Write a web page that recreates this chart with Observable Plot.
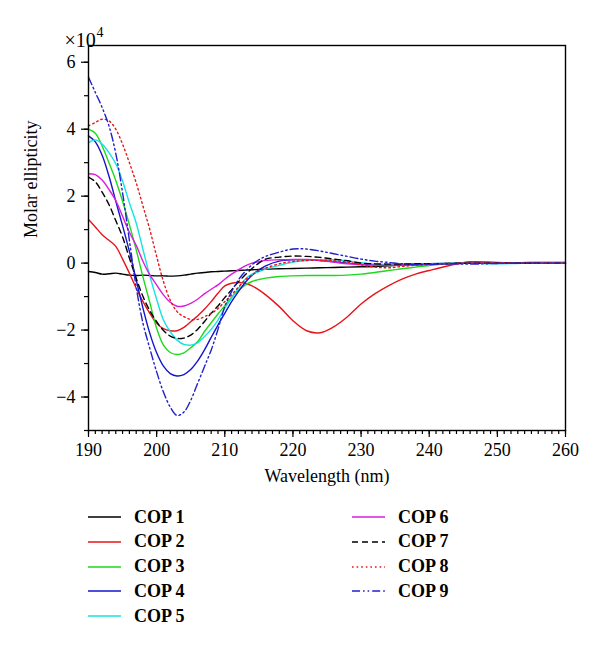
<!DOCTYPE html>
<html><head><meta charset="utf-8">
<script src="https://cdn.jsdelivr.net/npm/d3@7"></script>
<script src="https://cdn.jsdelivr.net/npm/@observablehq/plot@0.6"></script>
<style>
body{margin:0;background:#fff;font-family:"Liberation Serif",serif;}
#legend{position:relative;width:600px;height:147px;}
.item{position:absolute;display:flex;align-items:center;height:22px;font-weight:bold;font-size:18px;color:#000;}
.item svg{margin-right:13px;}
</style></head><body>
<div id="chart"></div><div id="legend"></div>
<script>
// Wavelength grid (nm)
const wavelengths = [190,191,192,193,194,195,196,197,198,199,200,201,202,203,204,205,206,207,208,209,210,211,212,213,214,215,216,218,220,222,224,226,228,230,232,234,236,238,240,243,246,250,255,260];
// Molar ellipticity (x10^4)
const cop1 = [-0.25,-0.28,-0.33,-0.32,-0.3,-0.33,-0.36,-0.37,-0.36,-0.37,-0.38,-0.38,-0.39,-0.38,-0.36,-0.33,-0.3,-0.28,-0.26,-0.25,-0.24,-0.23,-0.22,-0.21,-0.2,-0.19,-0.18,-0.17,-0.16,-0.15,-0.14,-0.13,-0.12,-0.11,-0.1,-0.08,-0.06,-0.05,-0.04,-0.02,0,0,0.02,0.02];
const cop2 = [1.3,1.08,0.85,0.68,0.5,0.12,-0.3,-0.75,-1.15,-1.5,-1.8,-1.96,-2.02,-2.02,-1.92,-1.75,-1.58,-1.38,-1.15,-0.9,-0.68,-0.6,-0.58,-0.6,-0.68,-0.8,-0.95,-1.3,-1.72,-2.02,-2.08,-1.9,-1.6,-1.22,-0.92,-0.68,-0.48,-0.33,-0.22,-0.07,0.04,0.02,0,0];
const cop3 = [4.0,3.88,3.5,3.0,2.47,1.85,1.15,0.4,-0.42,-1.18,-1.95,-2.45,-2.67,-2.73,-2.68,-2.53,-2.35,-2.05,-1.78,-1.52,-1.27,-1.02,-0.82,-0.66,-0.55,-0.49,-0.45,-0.4,-0.38,-0.37,-0.37,-0.37,-0.36,-0.33,-0.28,-0.22,-0.17,-0.12,-0.07,-0.01,0,0,0,0];
const cop4 = [3.8,3.62,3.22,2.6,1.85,1.12,0.35,-0.5,-1.35,-2.1,-2.68,-3.08,-3.3,-3.37,-3.33,-3.18,-2.93,-2.6,-2.22,-1.85,-1.5,-1.15,-0.85,-0.58,-0.36,-0.2,-0.08,0.06,0.1,0.1,0.08,0.04,0,-0.03,-0.05,-0.05,-0.04,-0.03,-0.02,-0.01,0,0,0,0];
const cop5 = [3.6,3.68,3.56,3.3,2.97,2.45,1.8,1.2,0.4,-0.38,-1.08,-1.7,-2.05,-2.3,-2.43,-2.45,-2.38,-2.2,-1.98,-1.7,-1.35,-1.05,-0.75,-0.48,-0.33,-0.25,-0.18,-0.07,0.03,0.08,0.1,0.1,0.07,0.01,-0.03,-0.04,-0.04,-0.03,-0.02,-0.01,0,-0.02,0,0];
const cop6 = [2.67,2.64,2.48,2.2,1.87,1.4,0.92,0.53,0.05,-0.35,-0.65,-0.95,-1.17,-1.29,-1.28,-1.2,-1.08,-0.92,-0.78,-0.65,-0.48,-0.33,-0.2,-0.08,0,0.04,0.08,0.1,0.11,0.11,0.08,0.03,-0.02,-0.05,-0.06,-0.06,-0.05,-0.04,-0.03,-0.02,0,0,0,0];
const cop7 = [2.57,2.43,2.12,1.75,1.27,0.78,0.15,-0.45,-1.0,-1.42,-1.75,-2.01,-2.18,-2.25,-2.24,-2.15,-1.98,-1.75,-1.5,-1.28,-1.03,-0.8,-0.56,-0.35,-0.16,0,0.12,0.18,0.21,0.2,0.17,0.12,0.07,0,-0.02,-0.03,-0.03,-0.02,-0.02,-0.01,0,0,0,0];
const cop8 = [4.1,4.2,4.3,4.25,4.0,3.55,3.0,2.4,1.7,1.0,0.2,-0.55,-1.11,-1.45,-1.6,-1.68,-1.68,-1.6,-1.5,-1.36,-1.15,-0.95,-0.72,-0.5,-0.35,-0.24,-0.15,-0.02,0.05,0.08,0.08,0.07,0.03,-0.05,-0.12,-0.14,-0.1,-0.06,-0.03,-0.01,0,0,0,0];
const cop9 = [5.55,5.1,4.65,4.1,3.28,2.1,0.68,-0.72,-1.8,-2.55,-3.25,-3.85,-4.3,-4.55,-4.45,-4.1,-3.6,-3.1,-2.6,-1.98,-1.3,-0.85,-0.5,-0.25,-0.05,0.1,0.2,0.33,0.42,0.42,0.36,0.28,0.2,0.12,0.06,0.02,-0.02,-0.04,-0.04,-0.02,-0.03,-0.01,0,0];
const seriesNames = ["COP 1","COP 2","COP 3","COP 4","COP 5","COP 6","COP 7","COP 8","COP 9"];
const seriesValues = [cop1,cop2,cop3,cop4,cop5,cop6,cop7,cop8,cop9];
const xTicks = [190,200,210,220,230,240,250,260];
const yTicks = [-4,-2,0,2,4,6];

// styles
const styles = [
  {color:"#000000", dash:null},
  {color:"#e8141a", dash:null},
  {color:"#1ed81e", dash:null},
  {color:"#1414cc", dash:null},
  {color:"#16e2e2", dash:null},
  {color:"#dc1edc", dash:null},
  {color:"#000000", dash:"6,4"},
  {color:"#e8141a", dash:"1.6,3"},
  {color:"#2020cc", dash:"8,3,1.6,3,1.6,3"}
];

const rows = [];
seriesValues.forEach((vals,i)=>vals.forEach((v,j)=>rows.push({series:seriesNames[i], wl:wavelengths[j], v})));

const lineMarks = seriesNames.map((name,i)=>Plot.line(rows.filter(r=>r.series===name),{
  x:"wl", y:"v", stroke:styles[i].color, strokeDasharray:styles[i].dash, strokeWidth:1.4, curve:"catmull-rom"
}));

const chart = Plot.plot({
  width:600, height:500,
  marginLeft:88, marginRight:35, marginTop:45, marginBottom:70,
  style:{fontFamily:"Liberation Serif, serif", fontSize:"18px", color:"#000", background:"#fff"},
  x:{domain:[190,260], label:null},
  y:{domain:[-5,6.5], label:null},
  marks:[
    ...lineMarks,
    Plot.frame({stroke:"#000", strokeWidth:1.4}),
    Plot.axisX({ticks:d3.range(190,261,1), tickSize:4, tickFormat:()=>"", strokeWidth:1.2, label:null}),
    Plot.axisX({ticks:xTicks, tickSize:7, tickPadding:6, strokeWidth:1.2, fontSize:18, label:null}),
    Plot.axisY({ticks:d3.range(-5,7,1), tickSize:4, tickFormat:()=>"", strokeWidth:1.2, label:null}),
    Plot.axisY({ticks:yTicks, tickSize:7, tickPadding:6, strokeWidth:1.2, fontSize:18, label:null}),
    Plot.text(["Molar ellipticity"],{frameAnchor:"left", rotate:-90, dx:-57, fontSize:18}),
    Plot.text(["Wavelength (nm)"],{frameAnchor:"bottom", dy:51, fontSize:18}),
    Plot.text(["×10"],{frameAnchor:"top-left", textAnchor:"start", dx:-24, dy:-13, fontSize:20}),
    Plot.text(["4"],{frameAnchor:"top-left", textAnchor:"start", dx:8, dy:-18, fontSize:14})
  ]
});
document.getElementById("chart").appendChild(chart);

// legend
const legend = document.getElementById("legend");
seriesNames.forEach((name,i)=>{
  const col = i < 5 ? 0 : 1;
  const row = i < 5 ? i : i - 5;
  const item = document.createElement("div");
  item.className = "item";
  item.style.left = (col === 0 ? 88 : 352) + "px";
  item.style.top = (17 + row*24.75 - 11) + "px";
  const svg = d3.create("svg").attr("width",33).attr("height",6);
  svg.append("line").attr("x1",0).attr("x2",33).attr("y1",3).attr("y2",3)
    .attr("stroke",styles[i].color).attr("stroke-width",1.5)
    .attr("stroke-dasharray",styles[i].dash);
  item.appendChild(svg.node());
  const span = document.createElement("span");
  span.textContent = name;
  item.appendChild(span);
  legend.appendChild(item);
});
</script>
</body></html>
